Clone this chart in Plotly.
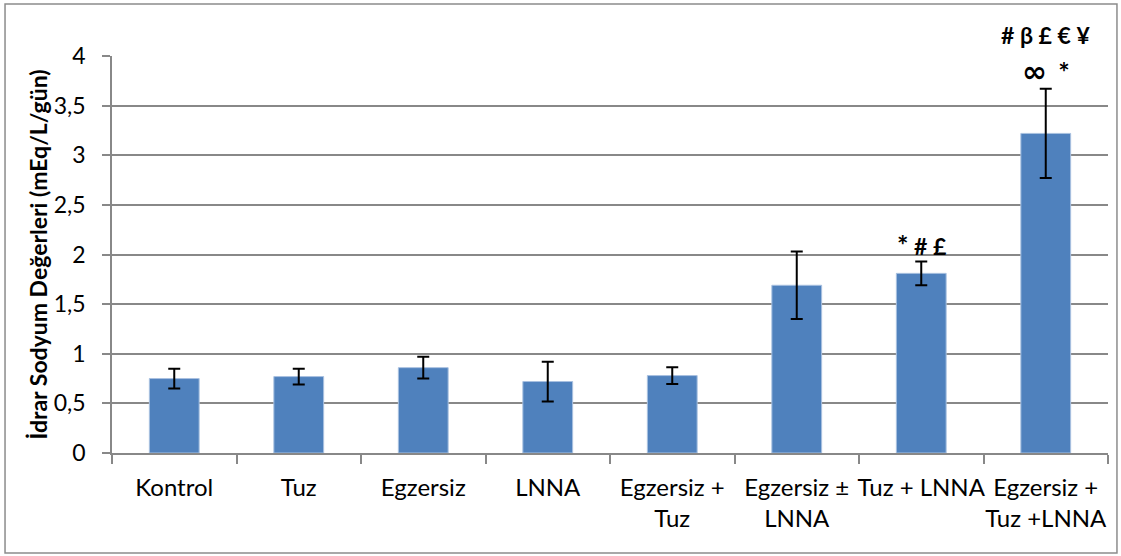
import plotly.graph_objects as go

# Group labels, mean urinary sodium and error (±) per group
groups = ["Kontrol", "Tuz", "Egzersiz", "LNNA", "Egzersiz +<br>Tuz",
          "Egzersiz ±<br>LNNA", "Tuz + LNNA", "Egzersiz +<br>Tuz +LNNA"]
means = [0.75, 0.77, 0.86, 0.72, 0.78, 1.69, 1.81, 3.22]
errors = [0.10, 0.08, 0.11, 0.20, 0.085, 0.34, 0.12, 0.45]

# Significance marks shown above selected bars: (group index, lines top-to-bottom)
STAR = "<span style='font-size:27px'>*</span>"
INF = "<span style='font-family:DejaVu Sans;font-size:30px'>∞</span>"
sig_marks = [
    (6, [f"{STAR} # £"]),
    (7, ["# β £ € ¥", f"{INF}  {STAR}"]),
]

FONT = "Lato"
GRID = "#888888"

fig = go.Figure()
fig.add_trace(go.Bar(
    x=groups, y=means,
    marker=dict(color="#4F81BD", line=dict(color="#A9C1E0", width=1)),
    error_y=dict(type="data", array=errors, visible=True,
                 color="black", thickness=2, width=6),
    width=0.4,
))

for idx, lines in sig_marks:
    top = means[idx] + errors[idx]
    for k, txt in enumerate(reversed(lines)):
        fig.add_annotation(
            x=groups[idx], y=top, xref="x", yref="y",
            text=f"<b>{txt}</b>", showarrow=False,
            yanchor="bottom", yshift=-2 + 40 * k,
            font=dict(family=FONT, size=23, color="black"),
        )

# Outer chart frame
fig.add_shape(type="rect", xref="paper", yref="paper",
              x0=-0.1074, x1=1.009, y0=-0.2519, y1=1.131,
              line=dict(color="#8C8C8C", width=1.5), layer="below")

fig.update_layout(
    width=1121, height=556,
    margin=dict(l=112, r=13, t=56, b=103),
    paper_bgcolor="white", plot_bgcolor="white",
    separators=", ",
    showlegend=False,
    font=dict(family=FONT, color="black"),
    bargap=0.6,
)
fig.update_xaxes(
    showline=True, linecolor=GRID, linewidth=1.5,
    ticks="outside", ticklen=9, tickcolor=GRID, tickwidth=1.5,
    tickson="boundaries", showgrid=False, tickangle=0, automargin=False,
    tickfont=dict(family=FONT, size=24, color="black"),
    ticklabelstandoff=12,
)
fig.update_yaxes(
    range=[0, 4], dtick=0.5, showgrid=True, gridcolor=GRID, gridwidth=1.5,
    showline=True, linecolor=GRID, linewidth=1.5,
    ticks="outside", ticklen=8, tickcolor=GRID, tickwidth=1.5,
    zeroline=False, automargin=False,
    tickfont=dict(family=FONT, size=23, color="black"),
    ticklabelstandoff=12,
    title=dict(text="<b>İdrar Sodyum Değerleri (mEq/L/gün)</b>",
               font=dict(family=FONT, size=23, color="black"), standoff=0),
)

fig.write_html("out.html")
